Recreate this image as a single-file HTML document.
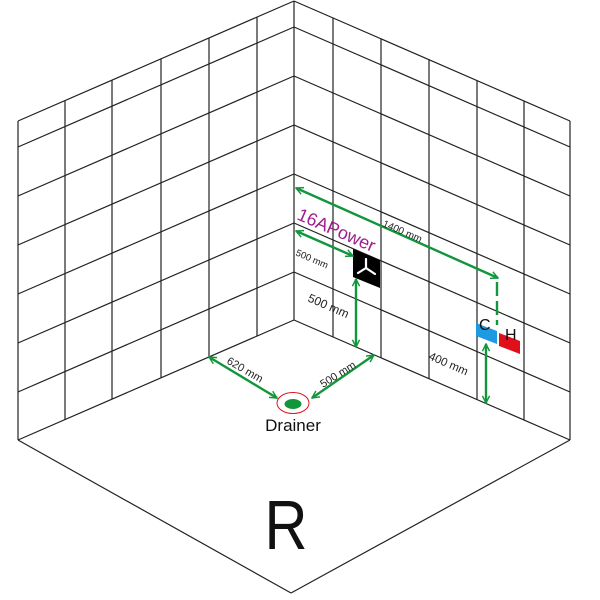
<!DOCTYPE html>
<html><head><meta charset="utf-8"><style>html,body{margin:0;padding:0;background:#fff}svg{display:block}</style></head>
<body>
<svg width="600" height="600" viewBox="0 0 600 600" xmlns="http://www.w3.org/2000/svg" font-family="'Liberation Sans', 'DejaVu Sans', sans-serif">
<defs>
<marker id="a" viewBox="0 0 10 10" refX="9" refY="5" markerWidth="9" markerHeight="9" orient="auto-start-reverse" markerUnits="userSpaceOnUse">
<polyline points="1,1 9,5 1,9" fill="none" stroke="#11963c" stroke-width="1.6"/>
</marker>
</defs>
<g stroke="#222" stroke-width="1.2" fill="none">
<line x1="294" y1="1" x2="18" y2="121"/>
<line x1="294" y1="27" x2="18" y2="147"/>
<line x1="294" y1="76" x2="18" y2="196"/>
<line x1="294" y1="125" x2="18" y2="245"/>
<line x1="294" y1="174" x2="18" y2="294"/>
<line x1="294" y1="223" x2="18" y2="343"/>
<line x1="294" y1="272" x2="18" y2="392"/>
<line x1="294" y1="320" x2="18" y2="440"/>
<line x1="294" y1="1" x2="570" y2="121"/>
<line x1="294" y1="27" x2="570" y2="147"/>
<line x1="294" y1="76" x2="570" y2="196"/>
<line x1="294" y1="125" x2="570" y2="245"/>
<line x1="294" y1="174" x2="570" y2="294"/>
<line x1="294" y1="223" x2="570" y2="343"/>
<line x1="294" y1="272" x2="570" y2="392"/>
<line x1="294" y1="320" x2="570" y2="440"/>
<line x1="294" y1="1" x2="294" y2="320"/>
<line x1="18" y1="121" x2="18" y2="440"/>
<line x1="65" y1="101" x2="65" y2="420"/>
<line x1="112" y1="80" x2="112" y2="399"/>
<line x1="161" y1="59" x2="161" y2="378"/>
<line x1="209" y1="38" x2="209" y2="357"/>
<line x1="257" y1="17" x2="257" y2="336"/>
<line x1="333" y1="18" x2="333" y2="337"/>
<line x1="381" y1="39" x2="381" y2="358"/>
<line x1="429" y1="60" x2="429" y2="379"/>
<line x1="477" y1="81" x2="477" y2="400"/>
<line x1="524" y1="101" x2="524" y2="420"/>
<line x1="570" y1="121" x2="570" y2="440"/>
<line x1="18" y1="440" x2="291" y2="593"/>
<line x1="570" y1="440" x2="291" y2="593"/>
</g>
<polygon points="353,249 380,260 380,288 353,277" fill="#000"/>
<g stroke="#fff" stroke-width="2.2" stroke-linecap="round">
<line x1="366" y1="268" x2="366" y2="259"/>
<line x1="366" y1="268" x2="358" y2="273"/>
<line x1="366" y1="268" x2="375" y2="274"/>
</g>
<polygon points="476,323 497,331 497,344 476,336" fill="#1e9be0"/>
<polygon points="499,333 520,341 520,354 499,346" fill="#e0101a"/>
<text x="479" y="330" font-size="16" fill="#111">C</text>
<text x="505" y="340" font-size="16" fill="#111">H</text>
<g stroke="#11963c" stroke-width="2.4" fill="none">
<line x1="296" y1="188" x2="498" y2="278" marker-start="url(#a)" marker-end="url(#a)"/>
<line x1="497" y1="282" x2="497" y2="325" stroke-dasharray="14,5"/>
<line x1="296" y1="231" x2="353" y2="256" marker-start="url(#a)" marker-end="url(#a)"/>
<line x1="356" y1="279" x2="356" y2="347" marker-start="url(#a)" marker-end="url(#a)"/>
<line x1="486" y1="344" x2="486" y2="403" marker-start="url(#a)" marker-end="url(#a)"/>
<line x1="209" y1="357" x2="277" y2="398" marker-start="url(#a)" marker-end="url(#a)"/>
<line x1="374" y1="355" x2="312" y2="398" marker-start="url(#a)" marker-end="url(#a)"/>
</g>
<ellipse cx="293" cy="403" rx="16" ry="10.5" fill="none" stroke="#e0101a" stroke-width="1"/>
<ellipse cx="293" cy="404" rx="8.5" ry="5" fill="#11963c"/>
<text x="293" y="431" font-size="17" text-anchor="middle" fill="#111">Drainer</text>
<text transform="translate(296,219) rotate(23.5)" font-size="18" fill="#a0208f">16APower</text>
<text transform="translate(382,226) rotate(23.5)" font-size="10" fill="#222">1400 mm</text>
<text transform="translate(295,255) rotate(23.5)" font-size="9.5" fill="#222">500 mm</text>
<text transform="translate(307,301) rotate(23.5)" font-size="12" fill="#222">500 mm</text>
<text transform="translate(428,359) rotate(23.5)" font-size="11.5" fill="#222">400 mm</text>
<text transform="translate(226,363) rotate(30)" font-size="11" fill="#222">620 mm</text>
<text transform="translate(323,388) rotate(-32)" font-size="11" fill="#222">500 mm</text>
<text transform="translate(286,549) scale(0.85,1)" x="0" y="0" font-size="70" text-anchor="middle" fill="#111">R</text>
</svg>
</body></html>
